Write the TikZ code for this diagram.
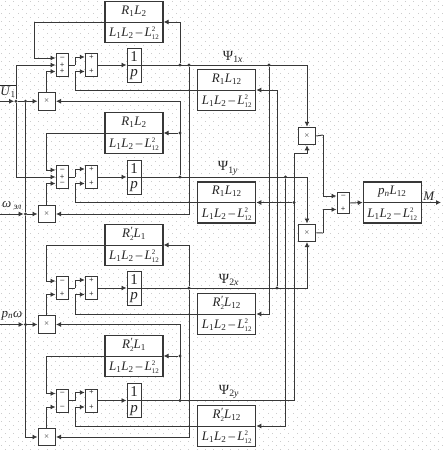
\documentclass[tikz,border=0pt]{standalone}
\usepackage{fontspec}
\setmainfont{Liberation Serif}
\usetikzlibrary{arrows.meta,calc}
\definecolor{ink}{gray}{0.22}
\definecolor{griddot}{gray}{0.8}
\newcommand{\vi}[1]{\textit{#1}}
\newcommand{\sbn}[1]{\textsubscript{#1}}
\newcommand{\stk}[2]{\rlap{\raisebox{5pt}{\fontsize{7}{7}\selectfont #1}}\raisebox{-3pt}{\fontsize{7}{7}\selectfont #2}}
\newcommand{\prm}{\rlap{\raisebox{2.5pt}{\fontsize{11}{11}\selectfont\hspace{0.5pt}′}}\raisebox{-3pt}{\fontsize{7}{7}\selectfont 2}}
\newcommand{\den}{\vi{L}\sbn{1}\vi{L}\sbn{2}\,–\,\vi{L}\stk{2}{12}}
\newcommand{\fracbox}[5]{% name, x, y, numerator, denominator
  \node[fbox] (#1) at (#2,#3) {};
  \draw[bar] (#1.west) -- (#1.east);
  \node[ftext] (#1n) at (#2,#3-11) {#4};
  \node[ftext] (#1d) at (#2,#3+11.5) {#5};
}
\newcommand{\chan}[8]{% id, Y, Amid, Bmid, Mmid, Anum, Bnum, feedback x
  \fracbox{A#1}{134}{#3}{#6}{\den}
  \fracbox{B#1}{226.75}{#4}{#7}{\den}
  \node[sumbox] (S#1) at (62.25,#2) {};
  \node[sumbox] (T#1) at (91.5,#2) {};
  \node[intbox] (I#1) at (134,#2) {};
  \draw[bar] (I#1.west) -- (I#1.east);
  \node[itext] (I#1n) at (134,#2-8.5) {1};
  \node[itext] (I#1d) at (134,#2+10) {\vi{p}};
  \node[mulbox] (M#1) at (46.75,#5) {×};
  \coordinate (sa#1) at (S#1.west |- 0,#2-7);
  \coordinate (sb#1) at (S#1.west |- 0,#2);
  \coordinate (sc#1) at (S#1.west |- 0,#2+6.5);
  \coordinate (ta#1) at (T#1.west |- 0,#2-8);
  \coordinate (tb#1) at (T#1.west |- 0,#2+6.5);
  \coordinate (fa#1) at (#8,#2-7);
  \coordinate (ka#1) at (75,#2);
  \coordinate (kb#1) at (75,#2+6.5);
  \node[sgn] (Tp#1) at (91.5,#2-8) {+};
  \node[sgn] (Tq#1) at (91.5,#2+6.5) {+};
  \draw[arr] (A#1.west) -| (fa#1) -- (sa#1);
  \draw[arr] (M#1.north) |- (sc#1);
  \draw[wire] (S#1.east) -- (ka#1);
  \draw[arr] (ka#1) |- (ta#1);
  \draw[arr] (B#1.west) -| (kb#1) -- (tb#1);
  \draw[arr] (T#1.east) -- (I#1.west);
}
\tikzset{
  wire/.style={draw=ink,line width=0.95pt},
  arr/.style={wire,-{Latex[length=5pt,width=5pt]}},
  bar/.style={draw=ink,line width=1pt},
  fbox/.style={draw=ink,line width=1.1pt,minimum width=58pt,minimum height=41pt,inner sep=0pt,fill=white},
  ftext/.style={inner sep=0pt,font=\fontsize{13}{13}\selectfont,text=black!85},
  itext/.style={inner sep=0pt,font=\fontsize{15}{15}\selectfont,text=black!85},
  sumbox/.style={draw=ink,line width=1pt,minimum width=12.5pt,minimum height=23pt,inner sep=0pt,fill=white},
  intbox/.style={draw=ink,line width=1pt,minimum width=14pt,minimum height=34pt,inner sep=0pt,fill=white},
  mulbox/.style={draw=ink,line width=1pt,minimum width=17.5pt,minimum height=17.5pt,inner sep=0pt,fill=white,font=\fontsize{9}{9}\selectfont,text=black!70},
  sgn/.style={inner sep=0pt,font=\fontsize{8}{8}\selectfont\bfseries,text=ink},
  jdot/.style={circle,fill=ink,inner sep=0pt,minimum size=3.4pt},
  lab/.style={inner sep=0pt,font=\fontsize{13}{13}\selectfont,text=black!85},
  psi/.style={lab,font=\fontsize{14}{14}\selectfont},
  griddots/.style={griddot}
}
\begin{document}
\begin{tikzpicture}[x=1pt,y=-1pt]
\useasboundingbox (0,0) rectangle (444,450);
\fill[white] (0,0) rectangle (444,450);
% dotted sheet background
\foreach \r in {0,...,56}{
  \foreach \c in {0,...,53}{
    \fill[griddots] ({\c*8.33+1},{\r*8+4.7}) rectangle +(0.8,0.8);
    \fill[griddots] ({\c*8.33+5.1},{\r*8+0.7}) rectangle +(0.8,0.8);
  }
}
% four channels
\chan{1}{65}{22}{90}{101.25}{\vi{R}\sbn{1}\vi{L}\sbn{2}}{\vi{R}\sbn{1}\vi{L}\sbn{12}}{34}
\chan{2}{177}{133}{202.5}{214}{\vi{R}\sbn{1}\vi{L}\sbn{2}}{\vi{R}\sbn{1}\vi{L}\sbn{12}}{46}
\chan{3}{288}{245}{314}{324.5}{\vi{R}\prm\vi{L}\sbn{1}}{\vi{R}\prm\vi{L}\sbn{12}}{46}
\chan{4}{400.5}{356}{426}{437}{\vi{R}\prm\vi{L}\sbn{1}}{\vi{R}\prm\vi{L}\sbn{12}}{46}
% signs of the first summers
\node[sgn] (g11) at (62.25,58) {–};
\node[sgn] (g12) at (62.25,65) {+};
\node[sgn] (g13) at (62.25,71.5) {+};
\node[sgn] (g21) at (62.25,170) {–};
\node[sgn] (g22) at (62.25,177) {+};
\node[sgn] (g23) at (62.25,183.5) {–};
\node[sgn] (g31) at (62.25,281) {–};
\node[sgn] (g33) at (62.25,294.5) {+};
\node[sgn] (g41) at (62.25,393.5) {–};
\node[sgn] (g43) at (62.25,407) {–};
% product and output part
\node[mulbox] (X1) at (307,136) {×};
\node[mulbox] (X2) at (307,232.75) {×};
\node[sumbox,minimum height=21.5pt] (R) at (343.25,203) {};
\node[sgn] (Ra) at (343.25,196) {–};
\node[sgn] (Rb) at (343.25,209.5) {+};
\fracbox{C}{392.25}{202.5}{\vi{p}\sbn{\vi{n}}\vi{L}\sbn{12}}{\den}
\coordinate (ra) at (R.west |- 0,196);
\coordinate (rb) at (R.west |- 0,209.5);
\coordinate (xo) at (323,135);
\coordinate (xp) at (323,233);
\coordinate (mo) at (441,202.5);
\draw[wire] (X1.east) -- (xo);
\draw[arr] (xo) |- (ra);
\draw[wire] (X2.east) -- (xp);
\draw[arr] (xp) |- (rb);
\draw[arr] (R.east) -- (C.west);
\draw[arr] (C.east) -- (mo);
% state lines
\draw[arr] (I1.east) -| (X1.north);
\draw[arr] (I2.east) -| (X2.north);
\draw[arr] (I3.east) -| (X2.south);
\coordinate (e4) at (294,400.5);
\coordinate (e5) at (294,153);
\draw[arr] (I4.east) -- (e4) -- (e5) -| (X1.south);
% junctions on the state lines
\node[jdot] (j1a) at (180,65) {};
\node[jdot] (j1b) at (189,65) {};
\node[jdot] (j1c) at (269,65) {};
\node[jdot] (j2a) at (180,177) {};
\node[jdot] (j2b) at (285.5,177) {};
\node[jdot] (j2c) at (180,133) {};
\node[jdot] (j3a) at (189,288) {};
\node[jdot] (j3b) at (277,288) {};
\node[jdot] (j4a) at (180,400.5) {};
\node[jdot] (j4b) at (180,356) {};
\node[jdot] (j5) at (294,202.5) {};
\draw[arr] (j1a) |- (A1.east);
\draw[arr] (j1b) |- (M2.east);
\draw[arr] (j1c) |- (B3.east);
\draw[arr] (j2a) |- (M1.east);
\draw[arr] (j2c) -- (A2.east);
\draw[arr] (j2b) |- (B4.east);
\draw[arr] (j3a) |- (A3.east);
\draw[arr] (j3a) |- (M4.east);
\draw[arr] (j3b) |- (B1.east);
\draw[arr] (j4a) |- (M3.east);
\draw[arr] (j4b) -- (A4.east);
\draw[arr] (j5) -- (B2.east);
% inputs
\coordinate (u0) at (0,101.25);
\node[jdot] (ju) at (16,101.25) {};
\coordinate (w0) at (0,214);
\coordinate (p0) at (0,324.5);
\node[jdot] (jv1) at (25.5,101.25) {};
\node[jdot] (jw) at (25.5,214) {};
\node[jdot] (jp) at (25.5,324.5) {};
\draw[arr] (u0) -- (ju);
\draw[wire] (ju) -- (jv1);
\draw[arr] (jv1) -- (M1.west);
\draw[arr] (ju) |- (sb1);
\draw[arr] (ju) |- (sb2);
\draw[arr] (w0) -- (jw);
\draw[arr] (jw) -- (M2.west);
\draw[arr] (p0) -- (jp);
\draw[arr] (jp) -- (M3.west);
\draw[wire] (jv1) -- (jw) -- (jp);
\draw[arr] (jp) |- (M4.west);
% labels
\node[lab] (lu) at (8,91) {$\overline{\hbox{\vi{U}\sbn{1}}}$};
\node[lab] (lw) at (12,205.5) {\vi{ω}\,\sbn{\vi{эл}}};
\node[lab] (lp) at (12,315.5) {\vi{p}\sbn{\vi{n}}\vi{ω}};
\node[psi] (l1) at (233,56.5) {Ψ\sbn{1\vi{x}}};
\node[psi] (l2) at (228,168.5) {Ψ\sbn{1\vi{y}}};
\node[psi] (l3) at (229,280) {Ψ\sbn{2\vi{x}}};
\node[psi] (l4) at (229,392) {Ψ\sbn{2\vi{y}}};
\node[lab] (lm) at (429,196) {\vi{M}};
\end{tikzpicture}
\end{document}
